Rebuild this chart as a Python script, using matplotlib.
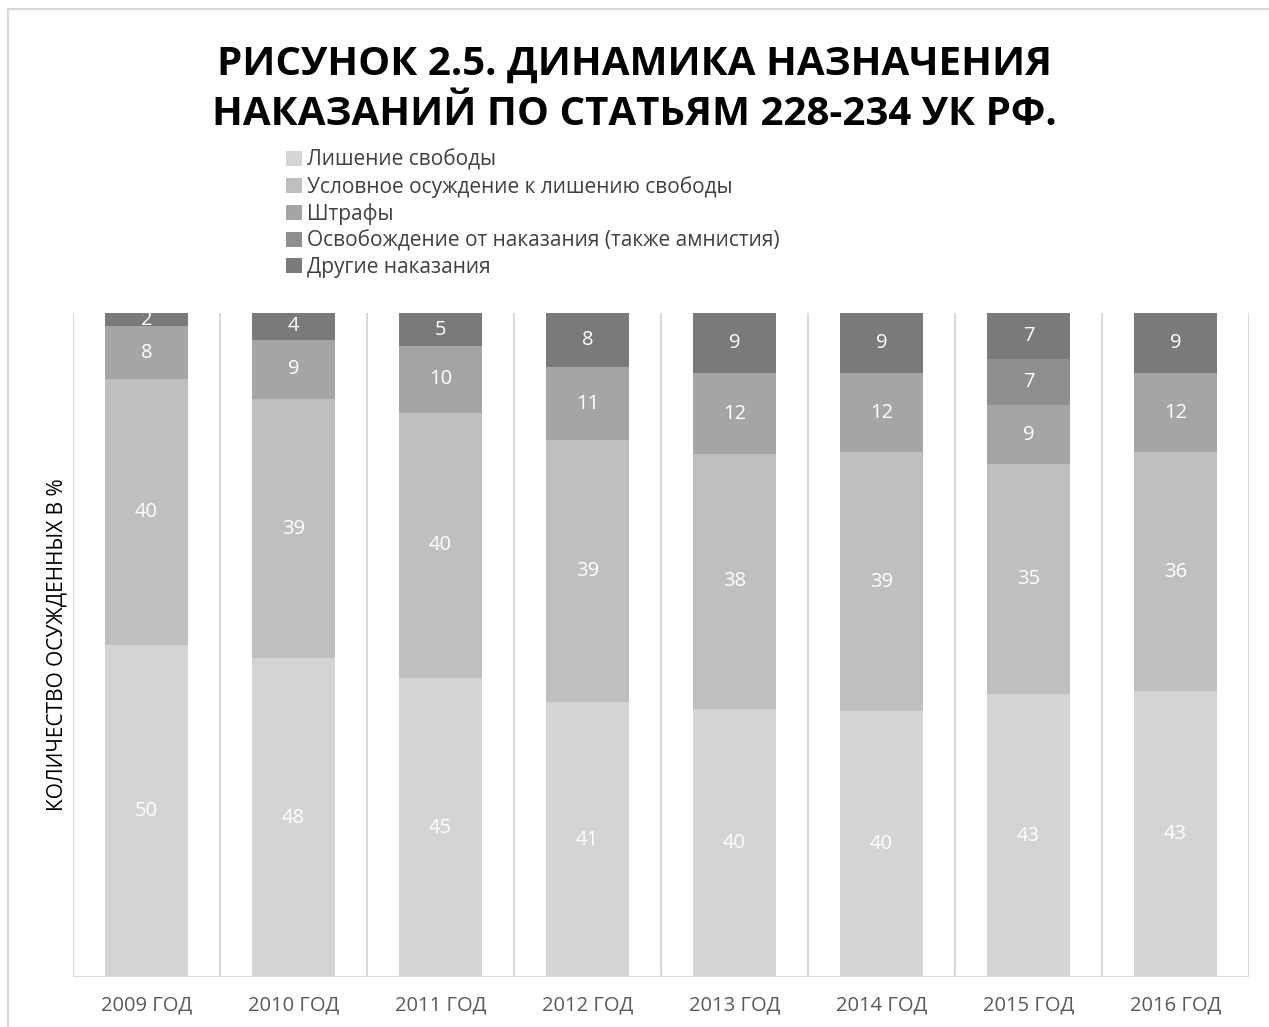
import numpy as np
import matplotlib
matplotlib.use("Agg")
import matplotlib.pyplot as plt
from matplotlib.lines import Line2D

plt.rcParams['font.family'] = ['Open Sans', 'DejaVu Sans']

years = ['2009 ГОД', '2010 ГОД', '2011 ГОД', '2012 ГОД',
         '2013 ГОД', '2014 ГОД', '2015 ГОД', '2016 ГОД']
series = ['Лишение свободы',
          'Условное осуждение к лишению свободы',
          'Штрафы',
          'Освобождение от наказания (также амнистия)',
          'Другие наказания']
prison = [50, 48, 45, 41, 40, 40, 43, 43]
probation = [40, 39, 40, 39, 38, 39, 35, 36]
fines = [8, 9, 10, 11, 12, 12, 9, 12]
release = [0, 0, 0, 0, 0, 0, 7, 0]
other = [2, 4, 5, 8, 9, 9, 7, 9]
colors = ['#d4d4d4', '#bfbfbf', '#a5a5a5', '#8f8f8f', '#7a7a7a']

data = np.array([prison, probation, fines, release, other], dtype=float)
pct = data / data.sum(axis=0) * 100

fig = plt.figure(figsize=(12.69, 10.27), dpi=100)
ax = fig.add_axes([73/1269, 1-977/1027, (1249-73)/1269, (977-313)/1027])

x = np.arange(len(years))
bottom = np.zeros(len(years))
for i in range(len(series)):
    ax.bar(x, pct[i], 0.56, bottom=bottom, color=colors[i], label=series[i])
    for j in range(len(years)):
        if data[i, j] > 0:
            ax.text(x[j], bottom[j] + pct[i, j] / 2, f'{int(data[i, j])}',
                    ha='center', va='center', color='white', fontsize=14.5)
    bottom += pct[i]

ax.set_xlim(-0.5, len(years) - 0.5)
ax.set_ylim(0, 100)
for b in np.arange(-0.5, len(years), 1.0):
    ax.axvline(b, color='#d9d9d9', lw=1.5, zorder=0)
for s in ax.spines.values():
    s.set_visible(False)
ax.axhline(0, color='#d9d9d9', lw=1.5, zorder=3)
ax.set_yticks([])
ax.set_xticks(x)
ax.set_xticklabels(years, fontsize=14.5, color='#595959')
ax.tick_params(axis='x', length=0, pad=13)
ax.set_ylabel('КОЛИЧЕСТВО ОСУЖДЕННЫХ В %', fontsize=15, labelpad=4)

fig.text(0.5, 1-89/1027, 'РИСУНОК 2.5. ДИНАМИКА НАЗНАЧЕНИЯ\nНАКАЗАНИЙ ПО СТАТЬЯМ 228-234 УК РФ.',
         ha='center', va='center', fontsize=29, fontweight='bold',
         linespacing=1.38, color='black')

leg = fig.legend(loc='upper left', bbox_to_anchor=(278/1269, 1-141/1027),
                 frameon=False, fontsize=15, handlelength=0.75, handleheight=0.75,
                 handletextpad=0.25, labelspacing=0.25, borderaxespad=0)
for t in leg.get_texts():
    t.set_color('#404040')

fig.add_artist(Line2D([8/1269, 1], [1-9/1027, 1-9/1027], color='#d9d9d9', lw=1.5))
fig.add_artist(Line2D([8/1269, 8/1269], [0, 1-9/1027], color='#d9d9d9', lw=1.5))

fig.savefig('out.png', dpi=100)
